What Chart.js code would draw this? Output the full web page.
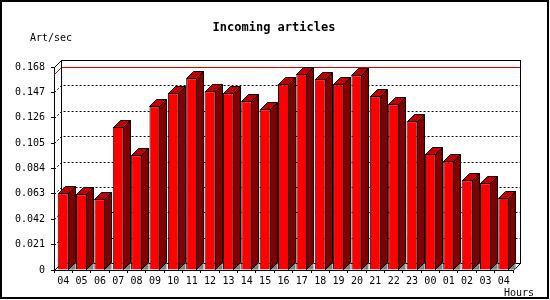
<!DOCTYPE html>
<html>
<head>
<meta charset="utf-8">
<script src="https://cdn.jsdelivr.net/npm/chart.js@4/dist/chart.umd.min.js"></script>
<style>
    body { margin: 0; background: #fff; }
    canvas { display: block; }
</style>
</head>
<body>
<canvas id="myChart" width="550" height="300"></canvas>
<script>
const hours = ['04', '05', '06', '07', '08', '09', '10', '11', '12', '13', '14', '15', '16',
    '17', '18', '19', '20', '21', '22', '23', '00', '01', '02', '03', '04'];
const artPerSec = [0.0635, 0.0627, 0.0585, 0.1184, 0.0949, 0.1355, 0.1463, 0.1587, 0.1480,
    0.1463, 0.1396, 0.1330, 0.1537, 0.1625, 0.1579, 0.1537, 0.1611, 0.1438, 0.1372, 0.1231,
    0.0963, 0.0900, 0.0742, 0.0717, 0.0599];
const yTicks = [0, 0.021, 0.042, 0.063, 0.084, 0.105, 0.126, 0.147, 0.168];

const DEPTH = 7;
const FONT = '"DejaVu Sans Mono", "Liberation Mono", monospace';

// рамка, задняя стенка, сетка и линия максимума
const backWall = {
    id: 'backWall',
    beforeDraw(chart) {
        const ctx = chart.ctx;
        ctx.save();
        ctx.fillStyle = '#fff';
        ctx.fillRect(0, 0, chart.width, chart.height);
        ctx.strokeStyle = '#000';
        ctx.lineWidth = 2;
        ctx.strokeRect(1, 1, 547, 297);
        ctx.restore();
    },
    beforeDatasetsDraw(chart) {
        const ctx = chart.ctx;
        const area = chart.chartArea;
        const y = chart.scales.y;
        const d = DEPTH;
        const l = Math.round(area.left) + 0.5;
        const r = Math.round(area.right) + 0.5;
        const t = Math.round(area.top) + 0.5;
        const b = Math.round(area.bottom) + 0.5;

        ctx.save();
        ctx.lineWidth = 1;
        ctx.strokeStyle = '#000';

        // сетка пунктиром
        ctx.setLineDash([2, 2]);
        yTicks.forEach(v => {
            if (v === 0 || v === yTicks[yTicks.length - 1]) return;
            const py = Math.round(y.getPixelForValue(v)) + 0.5;
            ctx.beginPath();
            ctx.moveTo(l, py);
            ctx.lineTo(l + d, py - d);
            ctx.lineTo(r + d, py - d);
            ctx.stroke();
        });
        ctx.setLineDash([]);

        // максимум
        const maxY = Math.round(y.getPixelForValue(Math.max(...artPerSec))) + 0.5;
        ctx.strokeStyle = '#e00000';
        ctx.beginPath();
        ctx.moveTo(l, maxY);
        ctx.lineTo(l + d, maxY - d);
        ctx.lineTo(r + d, maxY - d);
        ctx.stroke();

        // задняя стенка
        ctx.strokeStyle = '#000';
        ctx.strokeRect(l + d, t - d, r - l, b - t);
        ctx.beginPath();
        ctx.moveTo(l, t);
        ctx.lineTo(l + d, t - d);
        ctx.moveTo(l, b);
        ctx.lineTo(l + d, b - d);
        ctx.moveTo(r, b);
        ctx.lineTo(r + d, b - d);
        ctx.stroke();
        ctx.restore();
    },
    afterDatasetsDraw(chart) {
        const ctx = chart.ctx;
        const d = DEPTH;
        const meta = chart.getDatasetMeta(0);
        ctx.save();
        ctx.lineWidth = 1;
        ctx.strokeStyle = '#000';
        meta.data.forEach(bar => {
            const p = bar.getProps(['x', 'y', 'base', 'width'], true);
            const left = Math.round(p.x - p.width / 2) + 0.5;
            const right = Math.round(p.x + p.width / 2) - 0.5;
            const top = Math.round(p.y) + 0.5;
            const base = Math.round(p.base) - 0.5;

            // пол
            ctx.fillStyle = '#808080';
            ctx.beginPath();
            ctx.moveTo(right, base);
            ctx.lineTo(right + d, base - d);
            ctx.lineTo(right + d, base);
            ctx.closePath();
            ctx.fill();

            // бок
            ctx.fillStyle = '#800000';
            ctx.beginPath();
            ctx.moveTo(right, top);
            ctx.lineTo(right + d, top - d);
            ctx.lineTo(right + d, base - d);
            ctx.lineTo(right, base);
            ctx.closePath();
            ctx.fill();
            ctx.stroke();

            // верх
            ctx.fillStyle = '#c00000';
            ctx.beginPath();
            ctx.moveTo(left, top);
            ctx.lineTo(left + d, top - d);
            ctx.lineTo(right + d, top - d);
            ctx.lineTo(right, top);
            ctx.closePath();
            ctx.fill();
            ctx.stroke();
        });
        ctx.restore();
    },
    afterDraw(chart) {
        const ctx = chart.ctx;
        ctx.save();
        ctx.fillStyle = '#000';
        ctx.textBaseline = 'alphabetic';
        ctx.font = 'bold 12px ' + FONT;
        ctx.textAlign = 'center';
        ctx.fillText('Incoming articles', 274, 31);
        ctx.font = '10px ' + FONT;
        ctx.textAlign = 'left';
        ctx.fillText('Art/sec', 30, 41);
        ctx.fillText('Hours', 504, 296);
        ctx.restore();
    }
};

new Chart(document.getElementById('myChart').getContext('2d'), {
    type: 'bar',
    data: {
        labels: hours,
        datasets: [{
            data: artPerSec,
            backgroundColor: '#ff0000',
            borderColor: '#000',
            borderWidth: 1,
            categoryPercentage: 1,
            barPercentage: 0.6
        }]
    },
    options: {
        responsive: false,
        devicePixelRatio: 1,
        animation: false,
        layout: {
            padding: { left: 0, top: 67, right: 37, bottom: 0 }
        },
        plugins: {
            legend: { display: false },
            title: { display: false },
            tooltip: { enabled: false }
        },
        scales: {
            x: {
                afterFit(scale) { scale.height = 30; },
                grid: { drawOnChartArea: false, tickLength: 3, color: '#000', offset: true },
                border: { color: '#000' },
                ticks: {
                    color: '#000',
                    padding: 2,
                    maxRotation: 0,
                    autoSkip: false,
                    font: { family: FONT, size: 10 }
                }
            },
            y: {
                min: 0,
                max: yTicks[yTicks.length - 1],
                afterFit(scale) { scale.width = 54; },
                afterBuildTicks(scale) {
                    scale.ticks = yTicks.map(v => ({ value: v }));
                },
                grid: { drawOnChartArea: false, tickLength: 3, color: '#000' },
                border: { color: '#000' },
                ticks: {
                    color: '#000',
                    padding: 6,
                    font: { family: FONT, size: 10 },
                    callback: v => v === 0 ? '0' : v.toFixed(3)
                }
            }
        }
    },
    plugins: [backWall]
});
</script>
</body>
</html>
